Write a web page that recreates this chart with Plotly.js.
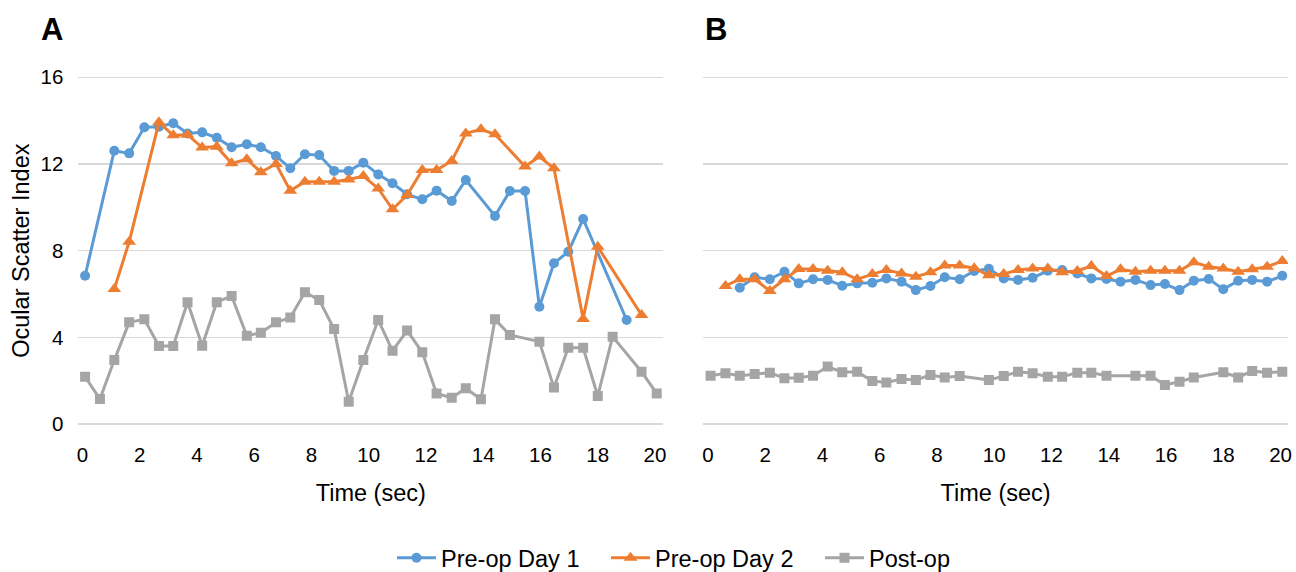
<!DOCTYPE html>
<html>
<head>
<meta charset="utf-8">
<script src="https://cdn.plot.ly/plotly-3.0.1.min.js"></script>
<style>html,body{margin:0;padding:0;background:#fff;overflow:hidden;}#chart{width:1296px;height:590px;}</style>
</head>
<body>
<div id="chart"></div>
<script>
// Time (sec) of each sample, shared by both panels
const timeSec = [0.09,0.61,1.11,1.63,2.16,2.67,3.17,3.67,4.18,4.69,5.21,5.74,6.23,6.76,7.26,7.77,8.27,8.79,9.30,9.81,
                 10.33,10.83,11.34,11.87,12.37,12.90,13.39,13.92,14.41,14.93,15.46,15.96,16.47,16.97,17.49,18.00,18.52,19.01,19.53,20.06];

// Panel A
const aPreDay1 = [6.84,null,12.61,12.49,13.69,13.72,13.88,13.41,13.46,13.21,12.77,12.91,12.77,12.37,11.80,12.45,12.41,11.68,11.68,12.06,
                  11.52,11.11,10.60,10.37,10.77,10.29,11.26,null,9.60,10.75,10.75,5.41,7.42,7.95,9.46,null,null,4.80,null,null];
const aPreDay2 = [null,null,6.23,8.41,null,13.92,13.32,13.35,12.76,12.80,12.03,12.22,11.62,12.00,10.77,11.18,11.18,11.18,11.28,11.44,
                  10.87,9.91,10.57,11.72,11.72,12.14,13.41,13.60,13.37,null,11.88,12.34,11.80,null,4.85,8.18,null,null,5.03,null];
const aPostOp  = [2.18,1.15,2.95,4.69,4.83,3.60,3.60,5.62,3.61,5.62,5.91,4.07,4.21,4.69,4.91,6.08,5.72,4.38,1.03,2.95,
                  4.80,3.38,4.31,3.31,1.41,1.21,1.65,1.14,4.83,4.11,null,3.80,1.68,3.52,3.52,1.29,4.03,null,2.41,1.41];

// Panel B
const bPreDay1 = [null,null,6.29,6.77,6.68,7.03,6.49,6.68,6.65,6.38,6.49,6.52,6.72,6.57,6.18,6.37,6.77,6.68,7.06,7.16,
                  6.72,6.65,6.75,7.07,7.11,6.95,6.72,6.69,6.57,6.65,6.41,6.46,6.18,6.61,6.69,6.22,6.61,6.65,6.57,6.84];
const bPreDay2 = [null,6.37,6.68,6.68,6.14,6.68,7.15,7.15,7.07,7.00,6.68,6.92,7.11,6.95,6.80,7.00,7.31,7.31,7.19,6.86,
                  6.92,7.11,7.18,7.18,7.00,7.06,7.29,6.83,7.14,7.03,7.07,7.07,7.07,7.46,7.26,7.18,7.03,7.14,7.26,7.52];
const bPostOp  = [2.23,2.34,2.23,2.31,2.37,2.11,2.14,2.23,2.65,2.39,2.41,1.98,1.92,2.08,2.03,2.26,2.15,2.21,null,2.03,
                  2.21,2.41,2.34,2.18,2.18,2.37,2.37,2.23,null,2.23,2.23,1.80,1.95,2.15,null,2.39,2.15,2.45,2.37,2.41];

const seriesNames = ["Pre-op Day 1","Pre-op Day 2","Post-op"];
const xTicks = [0,2,4,6,8,10,12,14,16,18,20];
const yTicks = [0,4,8,12,16];
const panelLabels = ["A","B"];

const colors = ["#5B9BD5","#ED7D31","#A5A5A5"];
const symbols = ["circle","triangle-up","square"];
const sizes = [10,12,10];

function mk(y, i, xa, ya, show){
  return {x: timeSec, y: y, type:"scatter", mode:"lines+markers", connectgaps:true,
    name: seriesNames[i], legendgroup: seriesNames[i], showlegend: show, legendrank: i+1,
    xaxis: xa, yaxis: ya,
    line:{color:colors[i], width:3},
    marker:{color:colors[i], symbol:symbols[i], size:sizes[i]}};
}
const plotTraces = [
  mk(aPostOp,2,"x","y",true), mk(aPreDay1,0,"x","y",true), mk(aPreDay2,1,"x","y",true),
  mk(bPostOp,2,"x2","y2",false), mk(bPreDay1,0,"x2","y2",false), mk(bPreDay2,1,"x2","y2",false)
];

const W=1296, H=590; // taller than the 572 window so the legend box never pushes the margins
const fontFam = "Liberation Sans, Arial, sans-serif";
const tickFont = {family: fontFam, size: 20.5, color:"#000"};
const titleFont = {family: fontFam, size: 23.5, color:"#000"};
const xBase = {range:[-0.147,20.29], tickvals:xTicks, showgrid:false, zeroline:false, showline:false,
  ticks:"", tickfont:tickFont, ticklabelstandoff:15,
  title:{text:"Time (sec)", font:titleFont, standoff:19}};
const yBase = {range:[-0.08,16.08], tickvals:yTicks, showgrid:true, gridcolor:"#D9D9D9", gridwidth:1.5,
  zeroline:false, showline:false, ticks:"", tickfont:tickFont, ticklabelstandoff:14};
const yDom = [1-425.73/H, 1-75.57/H];

const layout = {
  width:W, height:H, margin:{l:0,r:0,t:0,b:0},
  paper_bgcolor:"#fff", plot_bgcolor:"#fff",
  font:{family:fontFam, color:"#000"},
  xaxis: Object.assign({}, xBase, {domain:[78.3/W, 663.3/W], anchor:"y"}),
  xaxis2: Object.assign({}, xBase, {domain:[703.3/W, 1288/W], anchor:"y2", range:[-0.164,20.26]}),
  yaxis: Object.assign({}, yBase, {domain:yDom, anchor:"x",
     title:{text:"Ocular Scatter Index", font:titleFont, standoff:4}}),
  yaxis2: Object.assign({}, yBase, {domain:yDom, anchor:"x2", showticklabels:false}),
  showlegend:true,
  legend:{orientation:"h", x:392/W, xanchor:"left", y:1-558/H, yanchor:"middle",
    font:{family:fontFam,size:23.5,color:"#000"}, itemwidth:39, traceorder:"normal", entrywidth:160},
  annotations:[
    {text:"<b>"+panelLabels[0]+"</b>", x:52/W, y:1-30/H, xref:"paper", yref:"paper", showarrow:false,
     font:{family:fontFam,size:31,color:"#000"}, xanchor:"center", yanchor:"middle"},
    {text:"<b>"+panelLabels[1]+"</b>", x:716/W, y:1-30/H, xref:"paper", yref:"paper", showarrow:false,
     font:{family:fontFam,size:31,color:"#000"}, xanchor:"center", yanchor:"middle"}
  ]
};
Plotly.newPlot("chart", plotTraces, layout, {displayModeBar:false, staticPlot:true});
</script>
</body>
</html>
